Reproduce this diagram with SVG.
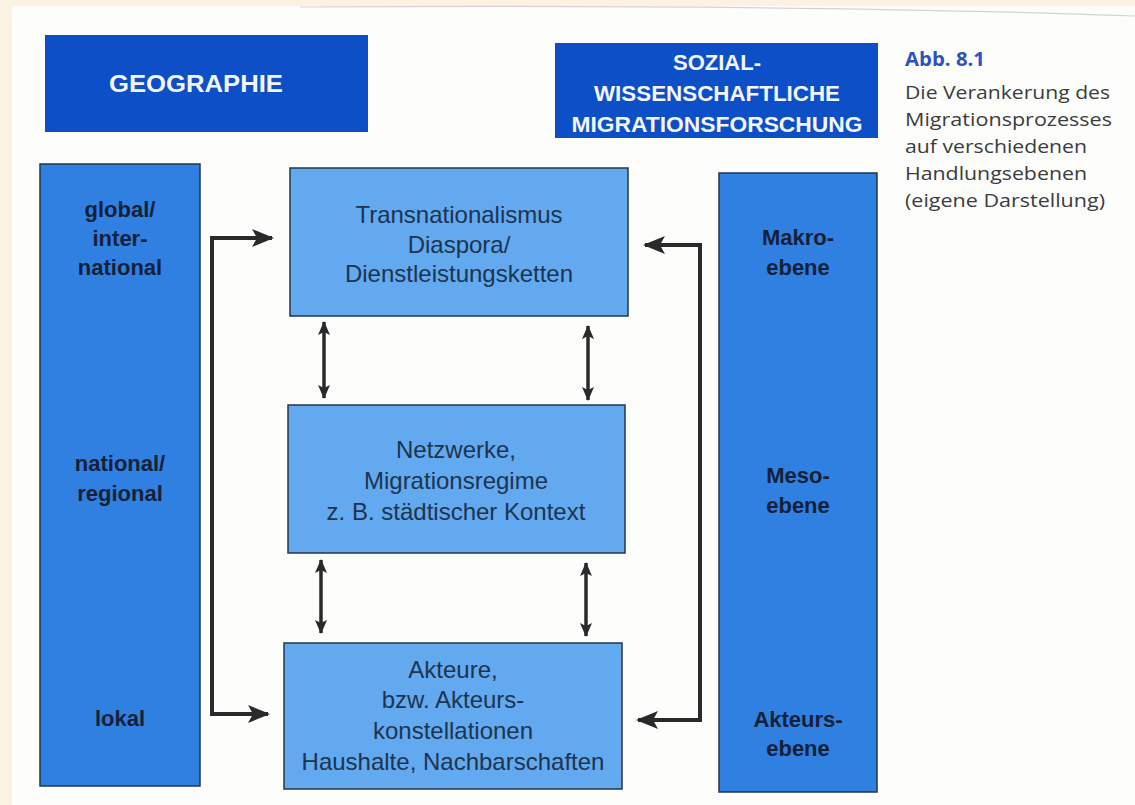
<svg xmlns="http://www.w3.org/2000/svg" width="1135" height="805" viewBox="0 0 1135 805">
  <defs>
    <style>
      .hdr { fill: #0d4fc6; }
      .col { fill: #2f80e0; stroke: #24344a; stroke-width: 1.5; }
      .box { fill: #62a9f0; stroke: #26364c; stroke-width: 1.5; }
      .hdrText { font-family: "Liberation Sans", Arial, sans-serif; font-weight: bold; fill: #f4f6fb; text-anchor: middle; }
      .colText { font-family: "Liberation Sans", Arial, sans-serif; font-weight: bold; font-size: 22px; fill: #14213a; text-anchor: middle; }
      .boxText { font-family: "Liberation Sans", Arial, sans-serif; font-size: 24px; fill: #1d344e; text-anchor: middle; }
      .capTitle { font-family: "Open Sans", "Noto Sans", sans-serif; font-weight: bold; font-size: 19px; fill: #2d52c0; }
      .cap { font-family: "Open Sans", "Noto Sans", sans-serif; font-size: 19px; fill: #3c3c3c; }
      .conn { fill: none; stroke: #2a2a2a; stroke-width: 4; }
      .dbl { fill: none; stroke: #2a2a2a; stroke-width: 3.5; }
    </style>
    <marker id="ah" markerUnits="userSpaceOnUse" markerWidth="22" markerHeight="20" viewBox="0 0 22 20" refX="20" refY="10" orient="auto">
      <path d="M0,1 L22,10 L0,19 L5,10 Z" fill="#2a2a2a"/>
    </marker>
    <marker id="ahs" markerUnits="userSpaceOnUse" markerWidth="14" markerHeight="14" viewBox="0 0 14 14" refX="13" refY="7" orient="auto-start-reverse">
      <path d="M0,1 L14,7 L0,13 L3,7 Z" fill="#2a2a2a"/>
    </marker>
  </defs>

  <!-- page background -->
  <rect x="0" y="0" width="1135" height="805" fill="#fcf2e3"/>
  <rect x="12" y="6" width="1123" height="799" fill="#fdfdfc"/>
  <path d="M300,7 Q800,4 1135,16" fill="none" stroke="#b8b8b8" stroke-width="1.2" opacity="0.6"/>

  <g id="header-geographie">
    <rect class="hdr" x="45" y="35" width="323" height="97"/>
    <text class="hdrText" x="196" y="92" font-size="24" textLength="174" lengthAdjust="spacingAndGlyphs">GEOGRAPHIE</text>
  </g>

  <g id="header-sozial">
    <rect class="hdr" x="555" y="43" width="323" height="95"/>
    <text class="hdrText" x="717" y="70" font-size="22">SOZIAL-</text>
    <text class="hdrText" x="717" y="101" font-size="22" textLength="246" lengthAdjust="spacingAndGlyphs">WISSENSCHAFTLICHE</text>
    <text class="hdrText" x="717" y="132" font-size="22" textLength="291" lengthAdjust="spacingAndGlyphs">MIGRATIONSFORSCHUNG</text>
  </g>

  <g id="caption">
    <text class="capTitle" x="905" y="66" textLength="80" lengthAdjust="spacingAndGlyphs">Abb. 8.1</text>
    <text class="cap" x="905" y="99" textLength="205" lengthAdjust="spacingAndGlyphs">Die Verankerung des</text>
    <text class="cap" x="905" y="126" textLength="207" lengthAdjust="spacingAndGlyphs">Migrationsprozesses</text>
    <text class="cap" x="905" y="153" textLength="182" lengthAdjust="spacingAndGlyphs">auf verschiedenen</text>
    <text class="cap" x="905" y="180" textLength="182" lengthAdjust="spacingAndGlyphs">Handlungsebenen</text>
    <text class="cap" x="905" y="207" textLength="200" lengthAdjust="spacingAndGlyphs">(eigene Darstellung)</text>
  </g>

  <g id="col-geographie">
    <rect class="col" x="40" y="164" width="160" height="622"/>
    <text class="colText" x="120" y="217">global/</text>
    <text class="colText" x="120" y="246">inter-</text>
    <text class="colText" x="120" y="275">national</text>
    <text class="colText" x="120" y="471">national/</text>
    <text class="colText" x="120" y="501">regional</text>
    <text class="colText" x="120" y="726">lokal</text>
  </g>

  <g id="col-ebenen">
    <rect class="col" x="719" y="173" width="158" height="619"/>
    <text class="colText" x="798" y="245">Makro-</text>
    <text class="colText" x="798" y="275">ebene</text>
    <text class="colText" x="798" y="483">Meso-</text>
    <text class="colText" x="798" y="513">ebene</text>
    <text class="colText" x="798" y="727">Akteurs-</text>
    <text class="colText" x="798" y="756">ebene</text>
  </g>

  <g id="box-makro">
    <rect class="box" x="290" y="168" width="338" height="148"/>
    <text class="boxText" x="459" y="223">Transnationalismus</text>
    <text class="boxText" x="459" y="253">Diaspora/</text>
    <text class="boxText" x="459" y="282">Dienstleistungsketten</text>
  </g>

  <g id="box-meso">
    <rect class="box" x="288" y="405" width="337" height="148"/>
    <text class="boxText" x="456" y="458">Netzwerke,</text>
    <text class="boxText" x="456" y="489">Migrationsregime</text>
    <text class="boxText" x="456" y="520">z. B. städtischer Kontext</text>
  </g>

  <g id="box-akteure">
    <rect class="box" x="284" y="643" width="338" height="146"/>
    <text class="boxText" x="453" y="678">Akteure,</text>
    <text class="boxText" x="453" y="708">bzw. Akteurs-</text>
    <text class="boxText" x="453" y="739">konstellationen</text>
    <text class="boxText" x="453" y="770">Haushalte, Nachbarschaften</text>
  </g>

  <g id="connectors">
    <path class="conn" d="M268,714 H212 V238 H272" marker-end="url(#ah)"/>
    <path class="conn" d="M212,600 V714 H268" marker-end="url(#ah)"/>
    <path class="conn" d="M638,720 H700 V245 H645" marker-end="url(#ah)"/>
    <path class="conn" d="M700,400 V720 H638" marker-end="url(#ah)"/>
    <path class="dbl" d="M324,322 V398" marker-start="url(#ahs)" marker-end="url(#ahs)"/>
    <path class="dbl" d="M588,326 V400" marker-start="url(#ahs)" marker-end="url(#ahs)"/>
    <path class="dbl" d="M321,560 V633" marker-start="url(#ahs)" marker-end="url(#ahs)"/>
    <path class="dbl" d="M586,563 V636" marker-start="url(#ahs)" marker-end="url(#ahs)"/>
  </g>
</svg>
